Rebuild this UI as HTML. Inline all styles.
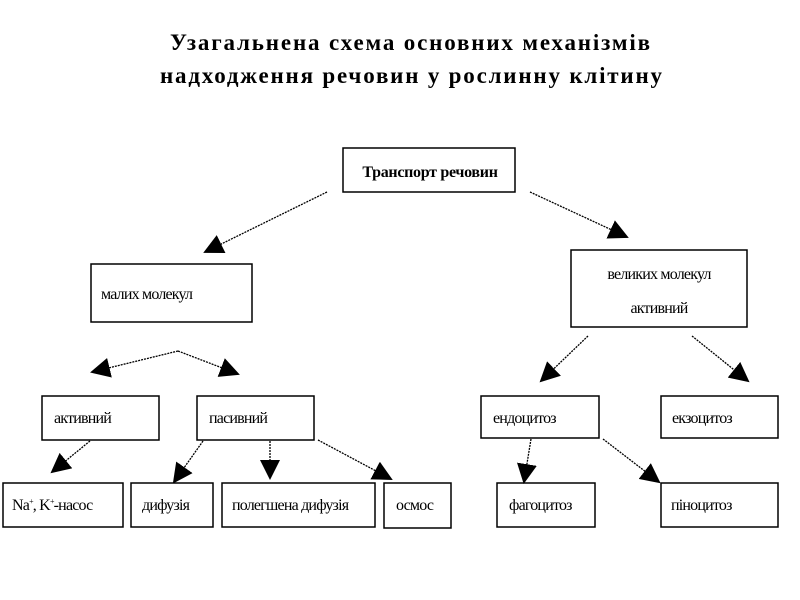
<!DOCTYPE html>
<html><head><meta charset="utf-8"><style>
body{margin:0;background:#fff;}
svg{display:block}
text{font-family:"Liberation Serif",serif;fill:#000}
.b{fill:#fff;stroke:#000;stroke-width:1.5}
.l{stroke:#000;stroke-width:1.3;stroke-dasharray:2 1}
.t{font-size:16px;letter-spacing:-0.8px}
</style></head><body>
<svg width="800" height="600" viewBox="0 0 800 600">
<defs><marker id="a" viewBox="0 0 10 10" refX="9" refY="5" markerWidth="20" markerHeight="20" markerUnits="userSpaceOnUse" orient="auto"><path d="M0,0L10,5L0,10z" fill="#000"/></marker></defs>
<text x="170" y="50" font-size="23" font-weight="bold" textLength="480" lengthAdjust="spacing">Узагальнена схема основних механізмів</text>
<text x="160" y="83" font-size="23" font-weight="bold" textLength="502" lengthAdjust="spacing">надходження речовин у рослинну клітину</text>
<rect class="b" x="343" y="148" width="172" height="44"/>
<text x="430" y="177" text-anchor="middle" font-size="16" font-weight="bold" letter-spacing="-0.3">Транспорт речовин</text>
<rect class="b" x="91" y="264" width="161" height="58"/><text class="t" x="101" y="299">малих молекул</text>
<rect class="b" x="571" y="250" width="176" height="77"/><text class="t" x="659" y="279" text-anchor="middle">великих молекул</text><text class="t" x="659" y="313" text-anchor="middle">активний</text>
<rect class="b" x="42" y="396" width="117" height="44"/><text class="t" x="54" y="423">активний</text>
<rect class="b" x="197" y="396" width="117" height="44"/><text class="t" x="209" y="423">пасивний</text>
<rect class="b" x="481" y="396" width="118" height="42"/><text class="t" x="493" y="423">ендоцитоз</text>
<rect class="b" x="661" y="396" width="117" height="42"/><text class="t" x="672" y="423">екзоцитоз</text>
<rect class="b" x="3" y="483" width="120" height="44"/><text class="t" x="12" y="510">Na<tspan font-size="8" dy="-6">+</tspan><tspan dy="6">, K</tspan><tspan font-size="8" dy="-6">+</tspan><tspan dy="6">-насос</tspan></text>
<rect class="b" x="131" y="483" width="82" height="44"/><text class="t" x="142" y="510">дифузія</text>
<rect class="b" x="222" y="483" width="153" height="44"/><text class="t" x="232" y="510">полегшена дифузія</text>
<rect class="b" x="384" y="483" width="67" height="45"/><text class="t" x="396" y="510">осмос</text>
<rect class="b" x="497" y="483" width="98" height="44"/><text class="t" x="509" y="510">фагоцитоз</text>
<rect class="b" x="661" y="483" width="117" height="44"/><text class="t" x="671" y="510">піноцитоз</text>
<g class="l" marker-end="url(#a)">
<line x1="327" y1="192" x2="205" y2="252"/>
<line x1="530" y1="192" x2="627" y2="237"/>
<polyline points="178,351 92,372" fill="none"/>
<line x1="178" y1="351" x2="238" y2="374"/>
<line x1="90" y1="441" x2="52" y2="472"/>
<line x1="203" y1="441" x2="174" y2="482"/>
<line x1="270" y1="441" x2="270" y2="478"/>
<line x1="318" y1="440" x2="391" y2="479"/>
<line x1="588" y1="336" x2="541" y2="381"/>
<line x1="692" y1="336" x2="748" y2="381"/>
<line x1="531" y1="439" x2="524" y2="482"/>
<line x1="603" y1="439" x2="659" y2="482"/>
</g>
</svg>
</body></html>
